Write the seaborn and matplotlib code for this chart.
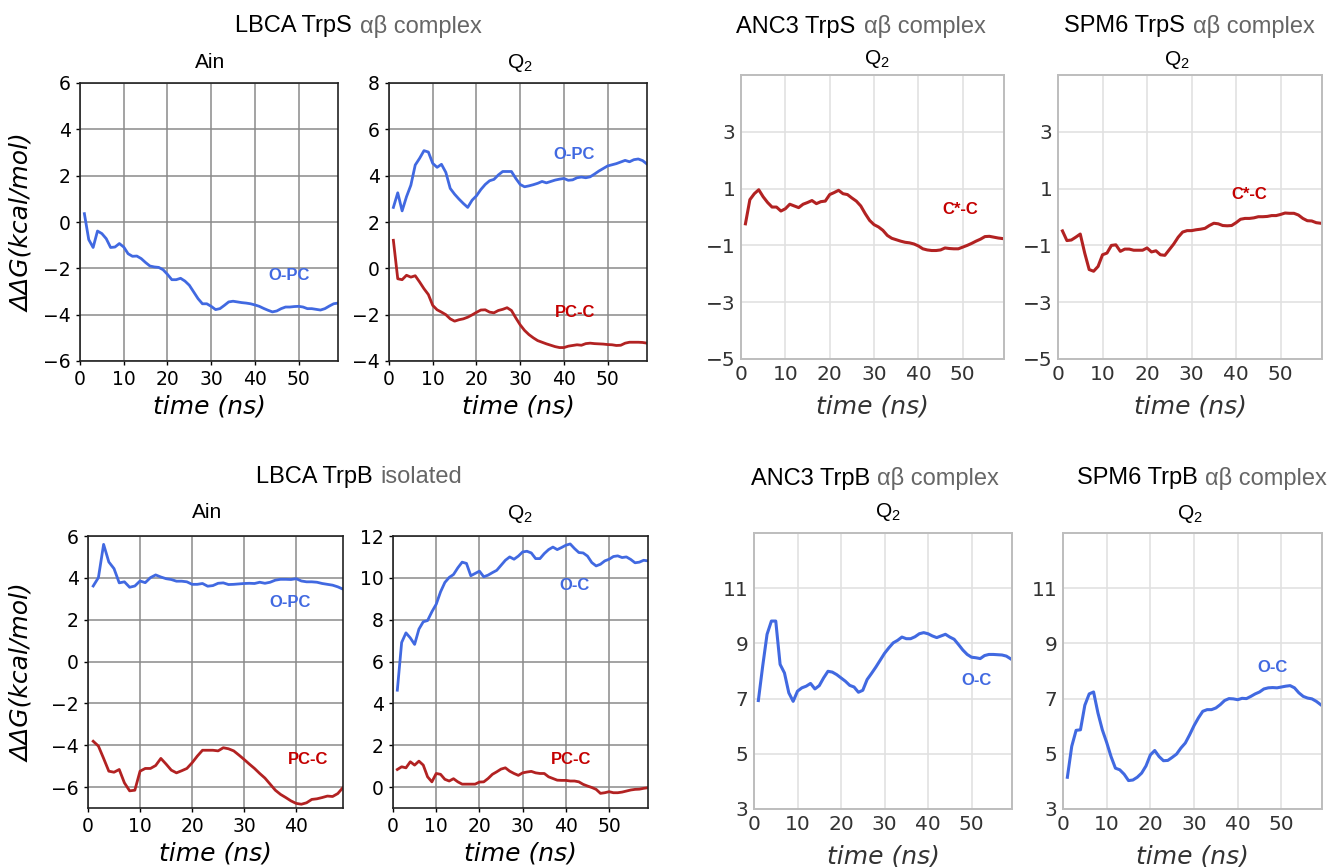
import numpy as np
import pandas as pd
import matplotlib
matplotlib.use("Agg")
import matplotlib.pyplot as plt
import seaborn as sns

plt.rcParams['mathtext.fontset'] = 'custom'
plt.rcParams['mathtext.rm'] = 'Liberation Sans'

W, H = 1336, 867

time59 = list(range(1, 60))
time49 = list(range(1, 50))

# LBCA TrpS (ab complex) - Ain
lbca_s_ain_opc = [0.36, -0.76, -1.1, -0.39, -0.5, -0.72, -1.1, -1.08, -0.93, -1.08,
                  -1.37, -1.48, -1.47, -1.58, -1.75, -1.9, -1.94, -1.96, -2.06, -2.26,
                  -2.49, -2.49, -2.43, -2.55, -2.73, -3.02, -3.31, -3.53, -3.53, -3.64,
                  -3.78, -3.74, -3.6, -3.45, -3.42, -3.45, -3.48, -3.5, -3.53, -3.58,
                  -3.64, -3.73, -3.81, -3.88, -3.84, -3.74, -3.67, -3.67, -3.65, -3.64,
                  -3.67, -3.74, -3.74, -3.77, -3.8, -3.74, -3.63, -3.53, -3.5]

# LBCA TrpS (ab complex) - Q2
lbca_s_q2_opc = [2.63, 3.26, 2.48, 3.09, 3.59, 4.46, 4.75, 5.08, 5.02, 4.53,
                 4.36, 4.49, 4.14, 3.45, 3.2, 2.99, 2.8, 2.63, 2.94, 3.13,
                 3.4, 3.62, 3.78, 3.84, 4.03, 4.18, 4.18, 4.18, 3.88, 3.62,
                 3.52, 3.56, 3.61, 3.67, 3.75, 3.69, 3.75, 3.81, 3.85, 3.88,
                 3.8, 3.82, 3.91, 3.94, 3.91, 3.95, 4.07, 4.2, 4.31, 4.42,
                 4.47, 4.52, 4.59, 4.66, 4.6, 4.69, 4.72, 4.65, 4.5]
lbca_s_q2_pcc = [1.21, -0.45, -0.49, -0.3, -0.38, -0.32, -0.59, -0.88, -1.13, -1.6,
                 -1.79, -1.89, -2.0, -2.18, -2.28, -2.22, -2.18, -2.11, -2.01, -1.9,
                 -1.8, -1.79, -1.89, -1.92, -1.82, -1.77, -1.7, -1.82, -2.14, -2.44,
                 -2.68, -2.86, -3.0, -3.12, -3.19, -3.26, -3.32, -3.38, -3.42, -3.42,
                 -3.36, -3.33, -3.3, -3.32, -3.25, -3.23, -3.25, -3.26, -3.27, -3.29,
                 -3.3, -3.33, -3.32, -3.23, -3.19, -3.19, -3.19, -3.2, -3.23]

# ANC3 TrpS (ab complex) - Q2
anc3_s_q2_csc = [-0.24, 0.61, 0.82, 0.96, 0.71, 0.51, 0.35, 0.35, 0.21, 0.29,
                 0.45, 0.39, 0.33, 0.45, 0.51, 0.58, 0.47, 0.54, 0.56, 0.79,
                 0.86, 0.94, 0.82, 0.79, 0.67, 0.56, 0.39, 0.12, -0.12, -0.27,
                 -0.35, -0.47, -0.65, -0.75, -0.8, -0.85, -0.89, -0.91, -0.95, -1.02,
                 -1.12, -1.16, -1.18, -1.18, -1.16, -1.09, -1.11, -1.12, -1.12, -1.06,
                 -1.0, -0.93, -0.85, -0.78, -0.69, -0.68, -0.71, -0.74, -0.76]

# SPM6 TrpS (ab complex) - Q2
spm6_s_q2_csc = [-0.49, -0.83, -0.81, -0.71, -0.6, -1.27, -1.85, -1.91, -1.74, -1.33,
                 -1.27, -1.0, -0.98, -1.21, -1.13, -1.13, -1.17, -1.17, -1.17, -1.09,
                 -1.23, -1.19, -1.33, -1.35, -1.15, -0.95, -0.71, -0.53, -0.48, -0.48,
                 -0.45, -0.43, -0.4, -0.3, -0.22, -0.24, -0.3, -0.31, -0.3, -0.2,
                 -0.08, -0.05, -0.05, -0.03, 0.01, 0.01, 0.02, 0.05, 0.05, 0.09,
                 0.14, 0.13, 0.13, 0.07, -0.05, -0.13, -0.14, -0.2, -0.22]

# LBCA TrpB (isolated) - Ain
lbca_b_ain_opc = [3.61, 4.01, 5.6, 4.76, 4.44, 3.76, 3.81, 3.55, 3.61, 3.85,
                  3.77, 4.01, 4.14, 4.04, 3.96, 3.92, 3.84, 3.84, 3.81, 3.69,
                  3.69, 3.73, 3.6, 3.63, 3.74, 3.76, 3.68, 3.69, 3.71, 3.73,
                  3.74, 3.73, 3.79, 3.74, 3.79, 3.89, 3.93, 3.93, 3.92, 3.96,
                  3.85, 3.81, 3.81, 3.79, 3.73, 3.69, 3.65, 3.57, 3.46]
lbca_b_ain_pcc = [-3.81, -4.04, -4.63, -5.24, -5.29, -5.16, -5.8, -6.18, -6.15, -5.24,
                  -5.11, -5.11, -4.97, -4.63, -4.9, -5.19, -5.32, -5.22, -5.11, -4.84,
                  -4.52, -4.24, -4.24, -4.24, -4.27, -4.12, -4.17, -4.27, -4.47, -4.68,
                  -4.9, -5.11, -5.35, -5.57, -5.86, -6.15, -6.35, -6.5, -6.66, -6.78,
                  -6.82, -6.75, -6.59, -6.56, -6.5, -6.43, -6.45, -6.31, -6.02]

# LBCA TrpB (isolated) - Q2
lbca_b_q2_oc = [4.63, 6.91, 7.37, 7.13, 6.82, 7.55, 7.9, 7.96, 8.38, 8.74,
                9.33, 9.78, 10.02, 10.16, 10.48, 10.75, 10.69, 10.1, 10.21, 10.32,
                10.05, 10.13, 10.25, 10.36, 10.6, 10.84, 11.0, 10.89, 11.04, 11.24,
                11.27, 11.19, 10.92, 10.92, 11.16, 11.35, 11.47, 11.35, 11.45, 11.56,
                11.62, 11.4, 11.21, 11.19, 11.04, 10.73, 10.57, 10.65, 10.81, 10.89,
                11.02, 11.05, 10.97, 11.0, 10.88, 10.72, 10.75, 10.84, 10.81]
lbca_b_q2_pcc = [0.84, 0.97, 0.92, 1.21, 1.05, 1.24, 1.05, 0.49, 0.25, 0.65,
                 0.61, 0.37, 0.29, 0.4, 0.25, 0.14, 0.14, 0.14, 0.14, 0.24,
                 0.25, 0.41, 0.61, 0.73, 0.86, 0.92, 0.76, 0.65, 0.56, 0.68,
                 0.72, 0.75, 0.68, 0.65, 0.65, 0.49, 0.41, 0.33, 0.32, 0.32,
                 0.29, 0.29, 0.25, 0.13, 0.05, -0.02, -0.11, -0.3, -0.27, -0.22,
                 -0.27, -0.27, -0.24, -0.19, -0.14, -0.11, -0.1, -0.06, -0.03]

# ANC3 TrpB (ab complex) - Q2
anc3_b_q2_oc = [6.93, 8.18, 9.33, 9.81, 9.81, 8.24, 7.93, 7.21, 6.9, 7.27,
                7.39, 7.45, 7.55, 7.35, 7.47, 7.75, 7.99, 7.96, 7.87, 7.75,
                7.63, 7.48, 7.42, 7.23, 7.3, 7.69, 7.91, 8.14, 8.39, 8.64,
                8.84, 9.02, 9.11, 9.23, 9.17, 9.17, 9.24, 9.35, 9.39, 9.35,
                9.27, 9.21, 9.27, 9.33, 9.23, 9.15, 8.96, 8.76, 8.6, 8.5,
                8.48, 8.45, 8.56, 8.6, 8.6, 8.59, 8.58, 8.54, 8.44]

# SPM6 TrpB (ab complex) - Q2
spm6_b_q2_oc = [4.15, 5.27, 5.85, 5.87, 6.76, 7.17, 7.24, 6.48, 5.87, 5.41,
                4.9, 4.48, 4.42, 4.26, 4.03, 4.05, 4.15, 4.3, 4.56, 4.96,
                5.12, 4.9, 4.75, 4.76, 4.87, 4.99, 5.21, 5.39, 5.69, 6.02,
                6.3, 6.54, 6.6, 6.6, 6.66, 6.78, 6.93, 7.0, 6.99, 6.96,
                7.01, 7.0, 7.08, 7.17, 7.24, 7.35, 7.39, 7.4, 7.39, 7.42,
                7.45, 7.47, 7.39, 7.21, 7.08, 7.02, 6.99, 6.9, 6.78]

BLUE = '#4169e1'
RED = '#b22222'
RED_TXT = '#c40000'
GREY_TXT = '#666666'
SANS = 'Liberation Sans'


def px_axes(fig, l, t, r, b):
    return fig.add_axes([l / W, 1 - b / H, (r - l) / W, (b - t) / H])


def style_left(ax, xlim, ylim, yticks):
    ax.set_xlim(*xlim)
    ax.set_ylim(*ylim)
    ax.set_xticks([t for t in [0, 10, 20, 30, 40, 50] if t <= xlim[1]])
    ax.set_yticks(yticks)
    ax.grid(True, color='#8a8a8a', lw=1.1)
    ax.set_axisbelow(True)
    for s in ax.spines.values():
        s.set_color('#222222')
        s.set_linewidth(1.2)
    ax.tick_params(labelsize=13.5, colors='black', length=3, width=1)
    ax.set_xlabel('time (ns)', fontsize=18, fontstyle='italic', labelpad=4)
    ax.set_ylabel('')


def style_right(ax, ylim, yticks):
    ax.set_xlim(0, 59.3)
    ax.set_ylim(*ylim)
    ax.set_xticks([0, 10, 20, 30, 40, 50])
    ax.set_yticks(yticks)
    ax.grid(True, color='#e1e1e1', lw=1.2)
    ax.set_axisbelow(True)
    for s in ax.spines.values():
        s.set_color('#bdbdbd')
        s.set_linewidth(1.4)
    ax.tick_params(labelsize=14.5, colors='#333333', length=0, pad=4)
    ax.set_xlabel('time (ns)', fontsize=18, fontstyle='italic', color='#333333', labelpad=8)
    ax.set_ylabel('')


def draw(ax, t, y, color, lw=2.0):
    sns.lineplot(x=t, y=y, ax=ax, color=color, lw=lw, legend=False)


def two_tone(fig, x_end, x_start, y, black, grey, size=17):
    fig.text(x_end / W, 1 - y / H, black, ha='right', va='center',
             fontsize=size, family=SANS, color='black')
    fig.text(x_start / W, 1 - y / H, grey, ha='left', va='center',
             fontsize=size, family=SANS, color=GREY_TXT)


def sub(fig, x, y, s, size=15):
    fig.text(x / W, 1 - y / H, s, ha='center', va='center', fontsize=size,
             family=SANS, color='black')


def lab(ax, x, y, s, color):
    ax.text(x, y, s, color=color, fontsize=12, fontweight='bold', family=SANS,
            ha='center', va='center')


fig = plt.figure(figsize=(W / 100, H / 100), dpi=100)

# ---- top row ----
ax1 = px_axes(fig, 80, 83, 338, 361)
draw(ax1, time59, lbca_s_ain_opc, BLUE)
style_left(ax1, (0, 59), (-6, 6), [-6, -4, -2, 0, 2, 4, 6])
lab(ax1, 47.7, -2.3, 'O-PC', BLUE)

ax2 = px_axes(fig, 389, 83, 647, 361)
draw(ax2, time59, lbca_s_q2_opc, BLUE)
draw(ax2, time59, lbca_s_q2_pcc, RED)
style_left(ax2, (0, 59), (-4, 8), [-4, -2, 0, 2, 4, 6, 8])
lab(ax2, 42.4, 4.93, 'O-PC', BLUE)
lab(ax2, 42.5, -1.92, 'PC-C', RED_TXT)

ax3 = px_axes(fig, 741, 75, 1004, 359)
draw(ax3, time59, anc3_s_q2_csc, RED, lw=2.2)
style_right(ax3, (-5, 5), [-5, -3, -1, 1, 3])
lab(ax3, 49.4, 0.27, 'C*-C', RED_TXT)

ax4 = px_axes(fig, 1058, 75, 1322, 359)
draw(ax4, time59, spm6_s_q2_csc, RED, lw=2.2)
style_right(ax4, (-5, 5), [-5, -3, -1, 1, 3])
lab(ax4, 42.9, 0.79, 'C*-C', RED_TXT)

# ---- bottom row ----
ax5 = px_axes(fig, 88, 536, 343, 808)
draw(ax5, time49, lbca_b_ain_opc, BLUE)
draw(ax5, time49, lbca_b_ain_pcc, RED)
style_left(ax5, (0, 49), (-7, 6), [-6, -4, -2, 0, 2, 4, 6])
lab(ax5, 38.8, 2.82, 'O-PC', BLUE)
lab(ax5, 42.2, -4.67, 'PC-C', RED_TXT)

ax6 = px_axes(fig, 393, 536, 648, 808)
draw(ax6, time59, lbca_b_q2_oc, BLUE)
draw(ax6, time59, lbca_b_q2_pcc, RED)
style_left(ax6, (0, 59), (-1, 12), [0, 2, 4, 6, 8, 10, 12])
lab(ax6, 42.1, 9.65, 'O-C', BLUE)
lab(ax6, 41.3, 1.34, 'PC-C', RED_TXT)

ax7 = px_axes(fig, 754, 533, 1012, 809)
draw(ax7, time59, anc3_b_q2_oc, BLUE, lw=2.2)
style_right(ax7, (3, 13), [3, 5, 7, 9, 11])
lab(ax7, 51.1, 7.67, 'O-C', BLUE)

ax8 = px_axes(fig, 1063, 533, 1322, 809)
draw(ax8, time59, spm6_b_q2_oc, BLUE, lw=2.2)
style_right(ax8, (3, 13), [3, 5, 7, 9, 11])
lab(ax8, 47.9, 8.12, 'O-C', BLUE)

# ---- titles ----
two_tone(fig, 352, 360, 26, 'LBCA TrpS', 'αβ complex')
two_tone(fig, 855, 864, 27, 'ANC3 TrpS', 'αβ complex')
two_tone(fig, 1185, 1193, 26, 'SPM6 TrpS', 'αβ complex')
two_tone(fig, 373, 380, 477, 'LBCA TrpB', 'isolated')
two_tone(fig, 870, 877, 479, 'ANC3 TrpB', 'αβ complex')
two_tone(fig, 1198, 1205, 478, 'SPM6 TrpB', 'αβ complex')

sub(fig, 210, 62, 'Ain')
sub(fig, 520, 63, r'$\mathrm{Q}_2$')
sub(fig, 877, 59, r'$\mathrm{Q}_2$')
sub(fig, 1177, 60, r'$\mathrm{Q}_2$')
sub(fig, 207, 512, 'Ain')
sub(fig, 520, 514, r'$\mathrm{Q}_2$')
sub(fig, 888, 512, r'$\mathrm{Q}_2$')
sub(fig, 1190, 514, r'$\mathrm{Q}_2$')

for yc in (223, 673):
    fig.text(22 / W, 1 - yc / H, 'ΔΔG(kcal/mol)', rotation=90, ha='center', va='center',
             fontsize=18, fontstyle='italic', color='black')

fig.savefig('out.png', dpi=100)
